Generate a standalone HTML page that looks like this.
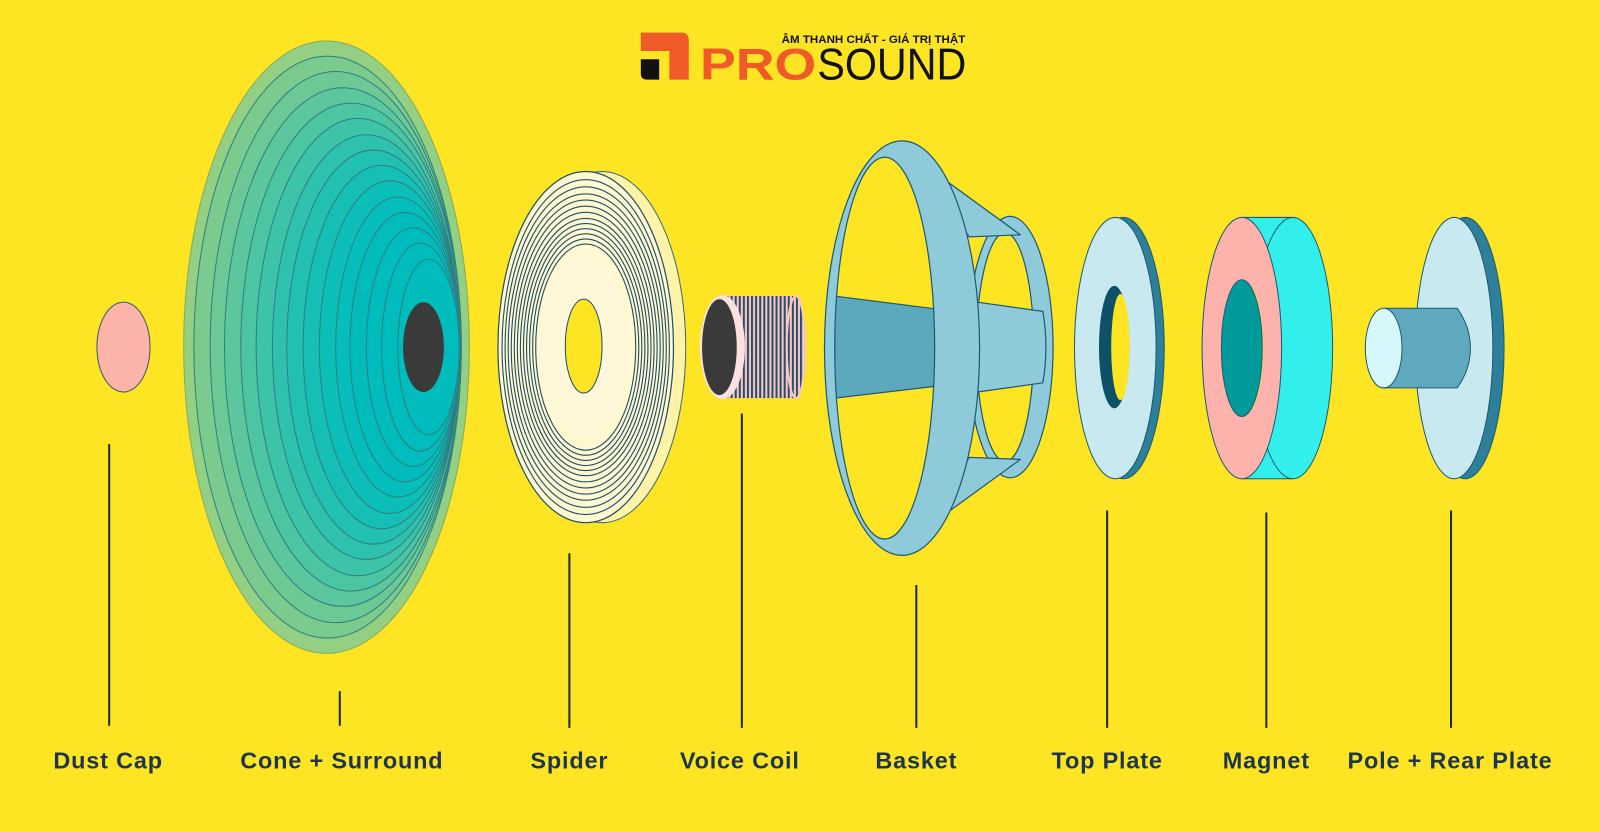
<!DOCTYPE html>
<html><head><meta charset="utf-8"><style>
html,body{margin:0;padding:0;background:#fee524;}
svg{display:block}
text{font-family:"Liberation Sans","Noto Sans CJK SC",sans-serif;}
</style></head><body>
<svg width="1600" height="832" viewBox="0 0 1568 815" preserveAspectRatio="none" xmlns="http://www.w3.org/2000/svg">
<defs>
<pattern id="coil" width="4" height="10" patternUnits="userSpaceOnUse">
<rect width="4" height="10" fill="#f6c9c9"/><rect width="2" height="10" fill="#2d4c63"/>
</pattern>
</defs>
<rect width="1568" height="815" fill="#fee524"/>

<!-- Logo -->
<path d="M628 32 H668 Q675 32 675 40 V78 H656 V50 H628 Z" fill="#f05a28"/>
<path d="M628 58 H646 V78 H634 Q628 78 628 72 Z" fill="#111"/>
<text x="686" y="78" font-size="44" font-weight="bold" fill="#f05a28" textLength="114" lengthAdjust="spacingAndGlyphs">PRO</text>
<text x="801" y="78" font-size="44" fill="#111" textLength="146" lengthAdjust="spacingAndGlyphs">SOUND</text>
<text x="766" y="42" font-size="11" font-weight="bold" fill="#111" textLength="180" lengthAdjust="spacingAndGlyphs">ÂM THANH CHẤT - GIÁ TRỊ THẬT</text>

<!-- Dust cap -->
<ellipse cx="121" cy="340" rx="26" ry="44" fill="#fcb3a8" stroke="#3a5a70" stroke-width="1"/>

<!-- Cone -->
<g stroke="#2f7f80" stroke-width="1">
<ellipse cx="320" cy="340" rx="140" ry="300" fill="#93d083" stroke="#8aa860"/>
<ellipse cx="321" cy="340" rx="131" ry="285" fill="#7ccb8e"/>
<ellipse cx="329" cy="340" rx="123" ry="270" fill="#6cc995"/>
<ellipse cx="336" cy="340" rx="116" ry="254" fill="#5cc79c"/>
<ellipse cx="344" cy="340" rx="108" ry="239" fill="#4cc5a2"/>
<ellipse cx="351" cy="340" rx="100" ry="224" fill="#3cc3a8"/>
<ellipse cx="359" cy="340" rx="92" ry="208" fill="#2ec1ad"/>
<ellipse cx="366" cy="340" rx="85" ry="193" fill="#22c0b1"/>
<ellipse cx="374" cy="340" rx="77" ry="178" fill="#16bfb5"/>
<ellipse cx="382" cy="340" rx="69" ry="163" fill="#0cbeb8"/>
<ellipse cx="390" cy="340" rx="61" ry="147" fill="#05bdba"/>
<ellipse cx="397" cy="340" rx="54" ry="132" fill="#02bcbc"/>
<ellipse cx="405" cy="340" rx="46" ry="117" fill="#00bcbc"/>
<ellipse cx="412" cy="340" rx="38" ry="102" fill="#00bcbc"/>
<ellipse cx="420" cy="340" rx="30" ry="86" fill="#00bcbc"/>
</g>
<ellipse cx="415" cy="340" rx="20" ry="44" fill="#3a3a3a"/>

<!-- Spider -->
<ellipse cx="590" cy="340" rx="82" ry="172" fill="#fff3a8" stroke="#3a6a80" stroke-width="1"/>
<ellipse cx="574" cy="340" rx="86" ry="172" fill="#fff8d0" stroke="#1f4f6a" stroke-width="1.2"/>
<g fill="none" stroke="#1f4f6a" stroke-width="1.1">
<ellipse cx="574" cy="340" rx="82" ry="164"/>
<ellipse cx="574" cy="340" rx="79" ry="157"/>
<ellipse cx="574" cy="340" rx="76" ry="150"/>
<ellipse cx="574" cy="340" rx="73" ry="144"/>
<ellipse cx="574" cy="340" rx="70" ry="138"/>
<ellipse cx="574" cy="340" rx="67" ry="132"/>
<ellipse cx="574" cy="340" rx="64" ry="126"/>
<ellipse cx="574" cy="340" rx="61" ry="121"/>
<ellipse cx="574" cy="340" rx="58" ry="116"/>
<ellipse cx="574" cy="340" rx="55" ry="111"/>
<ellipse cx="574" cy="340" rx="52" ry="106"/>
<ellipse cx="574" cy="340" rx="49" ry="101"/>
</g>
<ellipse cx="572" cy="340" rx="44" ry="88" fill="#fff8d8"/>
<ellipse cx="572" cy="339" rx="18" ry="46" fill="#fee524" stroke="#1f4f6a" stroke-width="1"/>

<!-- Voice coil -->
<rect x="710" y="290" width="70" height="100" fill="url(#coil)"/>
<ellipse cx="780" cy="340" rx="9" ry="50" fill="url(#coil)" stroke="#f6c9c9" stroke-width="2"/>
<ellipse cx="708" cy="340" rx="22" ry="51" fill="#fde0e0"/>
<ellipse cx="705" cy="340" rx="17" ry="47" fill="#3a3a3a"/>

<!-- Basket -->
<g stroke="#1e5a72" stroke-width="1.2" stroke-linejoin="round">
<path fill-rule="evenodd" fill="#8ecad9" d="M990 212 a42 128 0 1 1 0 256 a42 128 0 1 1 0 -256 Z M985 228 a28 112 0 1 0 0 224 a28 112 0 1 0 0 -224 Z"/>
<path fill="#8ecad9" d="M958 296 L1022 305 Q1028 340 1022 375 L958 384 Z"/>
<path fill="#8ecad9" d="M890 150 L1000 230 L950 232 Z"/>
<path fill="#8ecad9" d="M890 530 L1000 450 L950 448 Z"/>
<path fill="#5ca9be" d="M818 290 L920 303 L920 378 L818 390 Z"/>
<path fill-rule="evenodd" fill="#8ecad9" d="M884 138 a76 203 0 1 1 0 406 a76 203 0 1 1 0 -406 Z M867 154 a49 187 0 1 0 0 374 a49 187 0 1 0 0 -374 Z"/>
</g>

<!-- Top plate -->
<ellipse cx="1101" cy="341" rx="40" ry="128" fill="#2e7f9a" stroke="#1e5a72"/>
<ellipse cx="1093" cy="341" rx="40" ry="128" fill="#c9e9f0" stroke="#1e5a72"/>
<ellipse cx="1092" cy="340" rx="15" ry="60" fill="#0d5068"/>
<ellipse cx="1098" cy="340" rx="9" ry="52" fill="#fee524"/>

<!-- Magnet -->
<rect x="1217" y="213" width="50" height="256" fill="#33efeb"/>
<ellipse cx="1267" cy="341" rx="39" ry="128" fill="#33efeb" stroke="#1e5a72"/>
<line x1="1217" y1="213" x2="1267" y2="213" stroke="#1e5a72"/>
<line x1="1217" y1="469" x2="1267" y2="469" stroke="#1e5a72"/>
<ellipse cx="1217" cy="341" rx="39" ry="128" fill="#fdb3ac" stroke="#1e5a72"/>
<ellipse cx="1221" cy="341" rx="17" ry="64" fill="#fee524"/>
<ellipse cx="1217" cy="341" rx="20" ry="67" fill="#009a9a" stroke="#1e5a72"/>

<!-- Pole + rear plate -->
<ellipse cx="1436" cy="341" rx="38" ry="128" fill="#2e7f9a" stroke="#1e5a72"/>
<ellipse cx="1425" cy="341" rx="38" ry="128" fill="#c9e9f0" stroke="#1e5a72"/>
<path d="M1356 302 H1428 Q1441 320 1441 341 Q1441 362 1428 380 H1356 Z" fill="#5ea9bd" stroke="#1e5a72"/>
<ellipse cx="1356" cy="341" rx="18" ry="39" fill="#d6f8fa" stroke="#1e5a72"/>

<!-- Leader lines -->
<g stroke="#1d2a33" stroke-width="2">
<line x1="107" y1="435" x2="107" y2="711"/>
<line x1="333" y1="677" x2="333" y2="711"/>
<line x1="558" y1="542" x2="558" y2="713"/>
<line x1="727" y1="405" x2="727" y2="713"/>
<line x1="898" y1="573" x2="898" y2="713"/>
<line x1="1085" y1="500" x2="1085" y2="713"/>
<line x1="1241" y1="502" x2="1241" y2="713"/>
<line x1="1422" y1="500" x2="1422" y2="713"/>
</g>

<!-- Labels -->
<g font-size="23" font-weight="bold" fill="#1e3550" text-anchor="middle" letter-spacing="0.8">
<text x="106" y="753">Dust Cap</text>
<text x="335" y="753">Cone + Surround</text>
<text x="558" y="753">Spider</text>
<text x="725" y="753">Voice Coil</text>
<text x="898" y="753">Basket</text>
<text x="1085" y="753">Top Plate</text>
<text x="1241" y="753">Magnet</text>
<text x="1421" y="753">Pole + Rear Plate</text>
</g>
</svg>
</body></html>
